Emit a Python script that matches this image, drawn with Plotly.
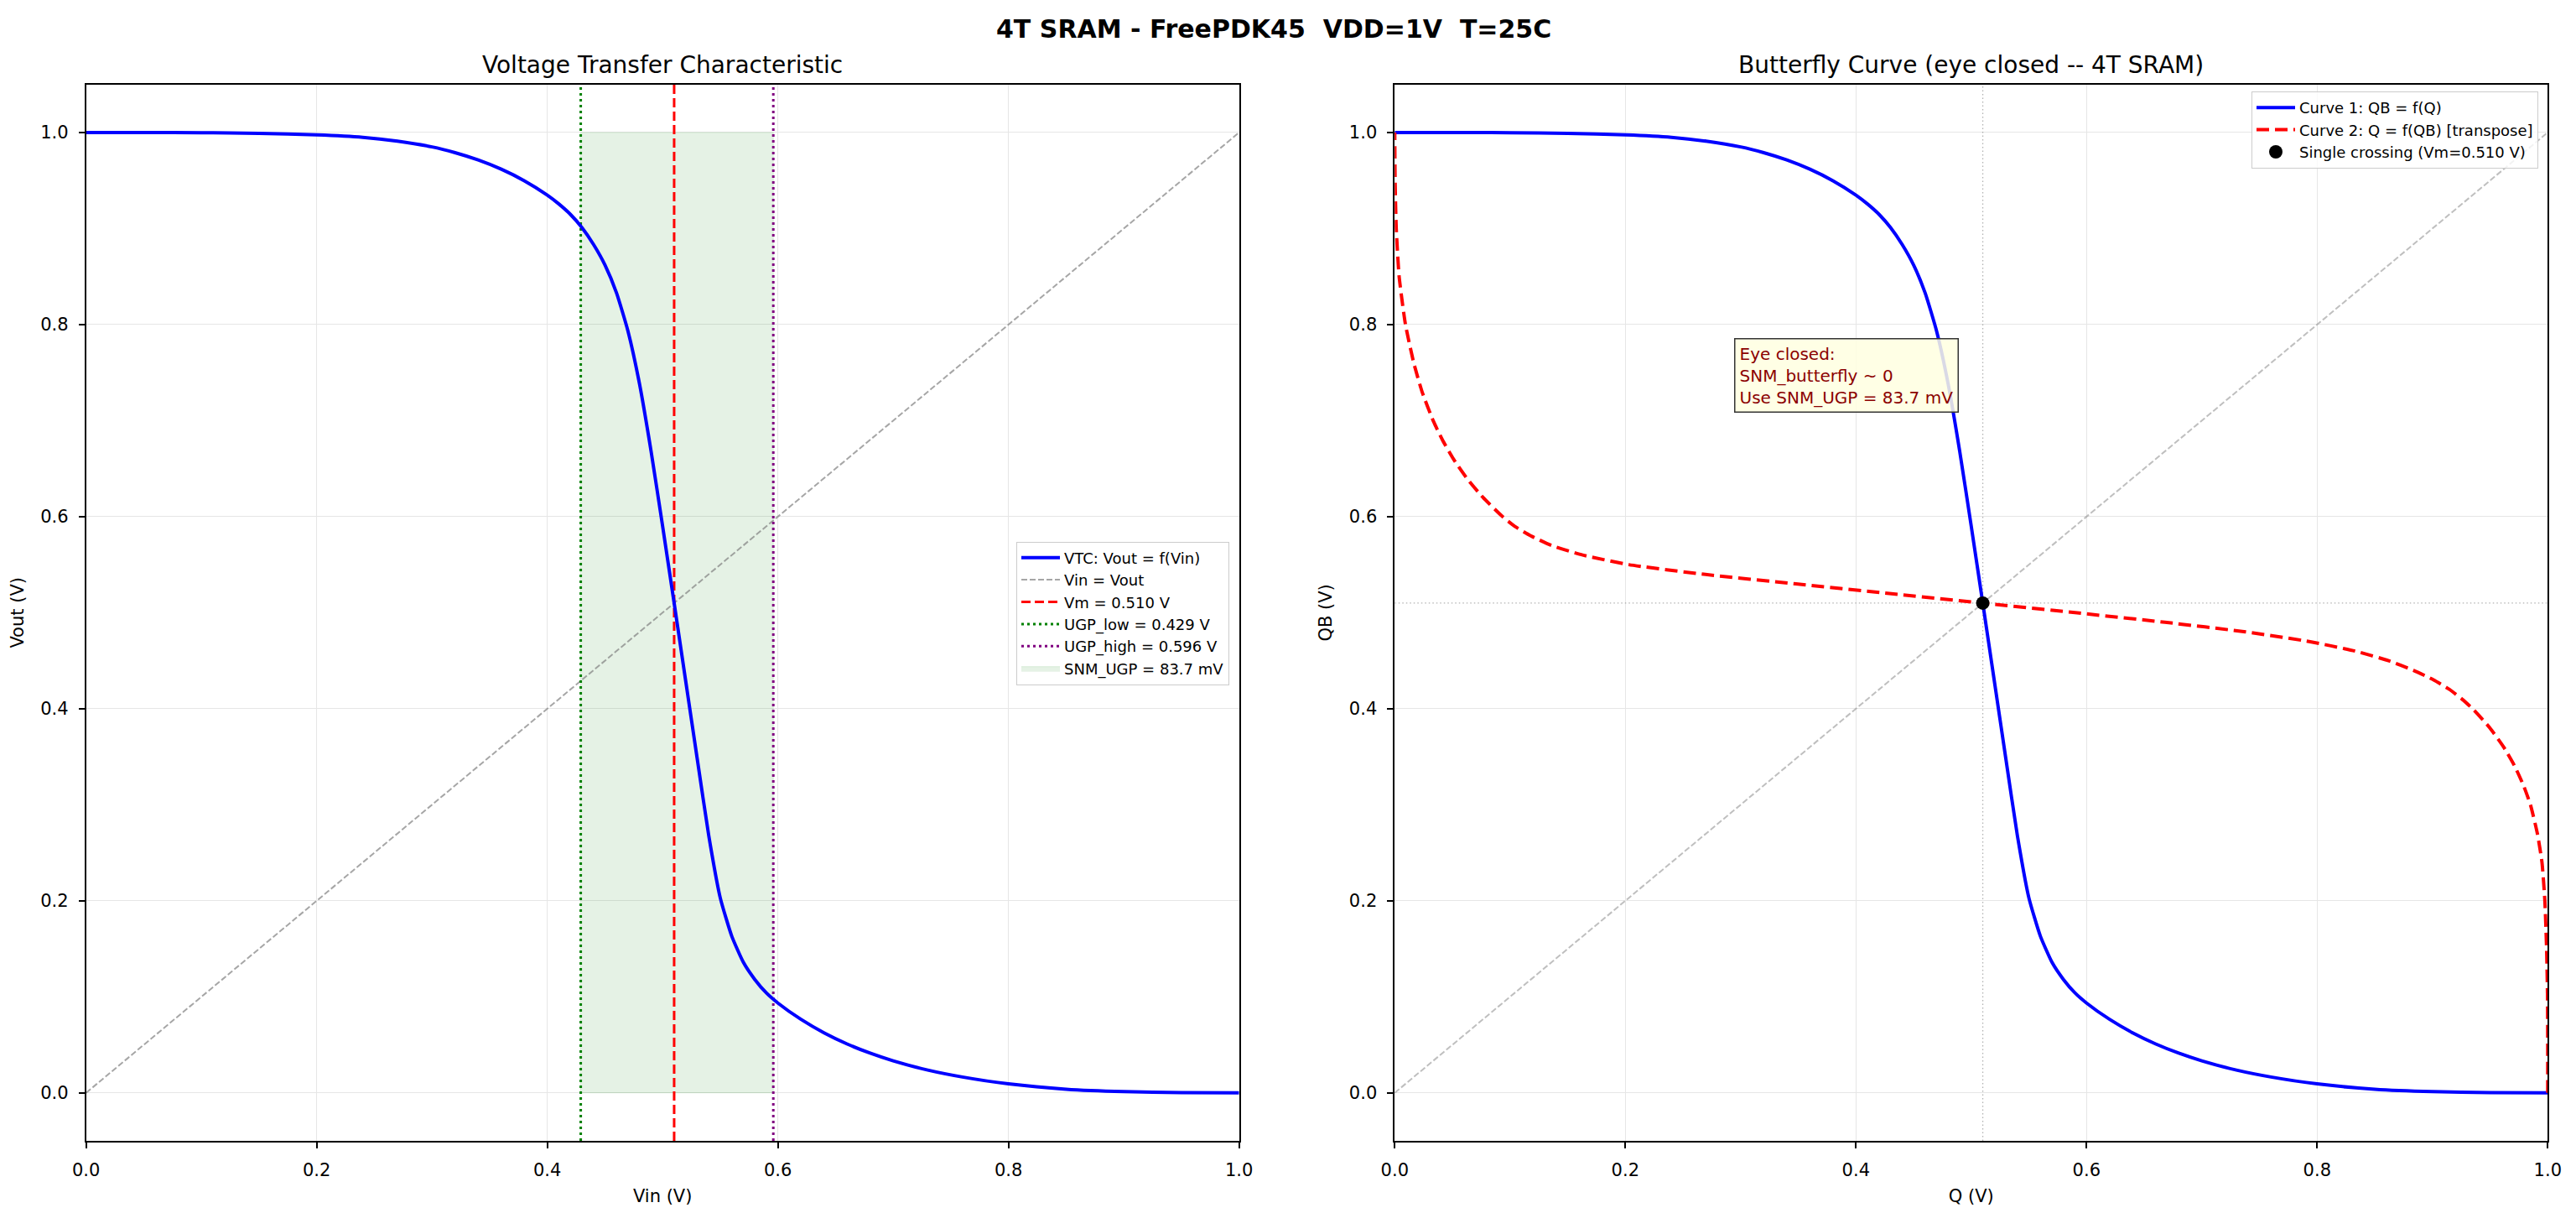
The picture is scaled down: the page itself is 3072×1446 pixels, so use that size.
import plotly.graph_objects as go

# ---------------- data ----------------
VIN = [0.00, 0.05, 0.10, 0.15, 0.20, 0.24, 0.27, 0.30, 0.32, 0.34, 0.36, 0.38,
       0.40, 0.41, 0.42, 0.43, 0.44, 0.45, 0.46, 0.47, 0.48, 0.49, 0.50, 0.51,
       0.52, 0.53, 0.54, 0.55, 0.56, 0.57, 0.58, 0.59, 0.60, 0.62, 0.64, 0.66,
       0.68, 0.70, 0.73, 0.76, 0.80, 0.85, 0.90, 0.95, 1.00]
VOUT = [1.0000, 1.0000, 0.9998, 0.9990, 0.9975, 0.9950, 0.9910, 0.9850, 0.9790,
        0.9714, 0.9618, 0.9498, 0.9348, 0.9256, 0.9148, 0.9010, 0.8835, 0.8620,
        0.8330, 0.7930, 0.7380, 0.6680, 0.5900, 0.5100, 0.4290, 0.3480, 0.2680,
        0.2030, 0.1630, 0.1360, 0.1180, 0.1040, 0.0935, 0.0765, 0.0625, 0.0509,
        0.0413, 0.0333, 0.0237, 0.0165, 0.0093, 0.0038, 0.0013, 0.0003, 0.0000]

VM = 0.510
UGP_LOW = 0.429
UGP_HIGH = 0.596
SNM_UGP_MV = 83.7
DIAG = [0.0, 1.0]

X_RANGE = [0.0, 1.0]
Y_RANGE = [-0.05, 1.05]

FONT = "DejaVu Sans"
W, H = 3072, 1446

# ---------------- figure ----------------
fig = go.Figure()

# --- left: VTC ---
fig.add_trace(go.Scatter(
    x=[UGP_LOW, UGP_HIGH, UGP_HIGH, UGP_LOW, UGP_LOW],
    y=[min(VOUT), min(VOUT), max(VOUT), max(VOUT), min(VOUT)],
    fill="toself", fillcolor="rgba(0,128,0,0.10)",
    line=dict(color="rgba(0,128,0,0.12)", width=1),
    mode="lines", name=f"SNM_UGP = {SNM_UGP_MV:.1f} mV",
    xaxis="x", yaxis="y", legend="legend", legendrank=6, hoverinfo="skip"))

fig.add_trace(go.Scatter(
    x=DIAG, y=DIAG, mode="lines", name="Vin = Vout",
    line=dict(color="rgba(128,128,128,0.7)", width=2, dash="7px,3px"),
    xaxis="x", yaxis="y", legend="legend", legendrank=2))

fig.add_trace(go.Scatter(
    x=[UGP_LOW, UGP_LOW], y=Y_RANGE, mode="lines",
    name=f"UGP_low = {UGP_LOW:.3f} V",
    line=dict(color="#008000", width=3, dash="3px,4px"),
    xaxis="x", yaxis="y", legend="legend", legendrank=4))

fig.add_trace(go.Scatter(
    x=[UGP_HIGH, UGP_HIGH], y=Y_RANGE, mode="lines",
    name=f"UGP_high = {UGP_HIGH:.3f} V",
    line=dict(color="#800080", width=3, dash="3px,4px"),
    xaxis="x", yaxis="y", legend="legend", legendrank=5))

fig.add_trace(go.Scatter(
    x=[VM, VM], y=Y_RANGE, mode="lines", name=f"Vm = {VM:.3f} V",
    line=dict(color="red", width=3, dash="11px,5px"),
    xaxis="x", yaxis="y", legend="legend", legendrank=3))

fig.add_trace(go.Scatter(
    x=VIN, y=VOUT, mode="lines", name="VTC: Vout = f(Vin)",
    line=dict(color="blue", width=4, shape="spline", smoothing=0.5),
    xaxis="x", yaxis="y", legend="legend", legendrank=1))

# --- right: butterfly ---
fig.add_trace(go.Scatter(
    x=DIAG, y=DIAG, mode="lines", showlegend=False,
    line=dict(color="rgba(128,128,128,0.5)", width=2, dash="7px,3px"),
    xaxis="x2", yaxis="y2"))

fig.add_trace(go.Scatter(
    x=[VM, VM], y=Y_RANGE, mode="lines", showlegend=False,
    line=dict(color="rgba(128,128,128,0.6)", width=1.3, dash="1.5px,3px"),
    xaxis="x2", yaxis="y2"))

fig.add_trace(go.Scatter(
    x=X_RANGE, y=[VM, VM], mode="lines", showlegend=False,
    line=dict(color="rgba(128,128,128,0.6)", width=1.3, dash="1.5px,3px"),
    xaxis="x2", yaxis="y2"))

fig.add_trace(go.Scatter(
    x=VIN, y=VOUT, mode="lines", name="Curve 1: QB = f(Q)",
    line=dict(color="blue", width=4, shape="spline", smoothing=0.5),
    xaxis="x2", yaxis="y2", legend="legend2", legendrank=1))

fig.add_trace(go.Scatter(
    x=VOUT, y=VIN, mode="lines", name="Curve 2: Q = f(QB) [transpose]",
    line=dict(color="red", width=4, dash="15px,7px", shape="spline", smoothing=0.5),
    xaxis="x2", yaxis="y2", legend="legend2", legendrank=2))

fig.add_trace(go.Scatter(
    x=[VM], y=[VM], mode="markers", name=f"Single crossing (Vm={VM:.3f} V)",
    marker=dict(color="black", size=16),
    xaxis="x2", yaxis="y2", legend="legend2", legendrank=3))

# ---------------- axes ----------------
def px_x(p):
    return p / W

def px_y(p):
    return 1 - p / H

y_dom = [px_y(1360), px_y(100.7)]


def axis(title, domain=None, anchor=None, is_y=False, standoff=10):
    d = dict(
        range=Y_RANGE if is_y else X_RANGE,
        tick0=0, dtick=0.2, tickformat=".1f",
        showgrid=True, gridcolor="#e6e6e6", gridwidth=1.3,
        zeroline=False, showline=True, linecolor="black", linewidth=1.7,
        mirror=True, ticks="outside", ticklen=7, tickwidth=1.7,
        tickcolor="black", tickfont=dict(family=FONT, size=21, color="black"),
        ticklabelstandoff=8, automargin=False,
        title=dict(text=title, font=dict(family=FONT, size=21, color="black"),
                   standoff=standoff),
    )
    if domain is not None:
        d["domain"] = domain
    if anchor is not None:
        d["anchor"] = anchor
    return d


fig.update_layout(
    width=W, height=H,
    margin=dict(l=0, r=0, t=0, b=0),
    paper_bgcolor="white", plot_bgcolor="white",
    template="none",
    font=dict(family=FONT, color="black"),
    xaxis=axis("Vin (V)", [px_x(102.7), px_x(1477.7)], "y", standoff=12),
    yaxis=axis("Vout (V)", y_dom, "x", is_y=True, standoff=14),
    xaxis2=axis("Q (V)", [px_x(1663.3), px_x(3038.3)], "y2", standoff=12),
    yaxis2=axis("QB (V)", y_dom, "x2", is_y=True, standoff=14),
    legend=dict(
        x=px_x(1466), y=px_y(731), xanchor="right", yanchor="middle",
        bgcolor="rgba(255,255,255,0.8)", bordercolor="#cccccc", borderwidth=1,
        font=dict(family=FONT, size=18, color="black"), itemwidth=46,
        traceorder="normal", tracegroupgap=0),
    legend2=dict(
        x=px_x(3027), y=px_y(109), xanchor="right", yanchor="top",
        bgcolor="rgba(255,255,255,0.8)", bordercolor="#cccccc", borderwidth=1,
        font=dict(family=FONT, size=18, color="black"), itemwidth=46,
        traceorder="normal", tracegroupgap=0),
    showlegend=True,
)

fig.add_annotation(
    text="<b>4T SRAM - FreePDK45&nbsp; VDD=1V&nbsp; T=25C</b>",
    x=px_x(1519), y=px_y(34.5), xref="paper", yref="paper",
    xanchor="center", yanchor="middle", showarrow=False,
    font=dict(family=FONT, size=30, color="black"))

fig.add_annotation(
    text="Voltage Transfer Characteristic",
    x=px_x(790.2), y=px_y(77), xref="paper", yref="paper",
    xanchor="center", yanchor="middle", showarrow=False,
    font=dict(family=FONT, size=28, color="black"))

fig.add_annotation(
    text="Butterfly Curve (eye closed -- 4T SRAM)",
    x=px_x(2350.8), y=px_y(77), xref="paper", yref="paper",
    xanchor="center", yanchor="middle", showarrow=False,
    font=dict(family=FONT, size=28, color="black"))

fig.add_annotation(
    text=f"Eye closed:<br>SNM_butterfly ~ 0<br>Use SNM_UGP = {SNM_UGP_MV:.1f} mV",
    x=0.294, y=0.747, xref="x2", yref="y2",
    xanchor="left", yanchor="middle", align="left", showarrow=False,
    font=dict(family=FONT, size=20, color="#8B0000"),
    bgcolor="rgba(255,255,224,0.85)", bordercolor="#333333", borderwidth=1.5,
    borderpad=5)

fig.write_html("out.html")
